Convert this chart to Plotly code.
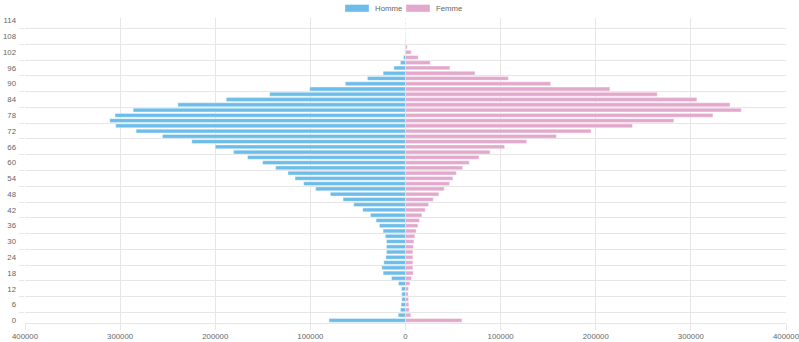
import plotly.graph_objects as go

# Age groups (2-year steps)
ages = list(range(0, 116, 2))

# Population by age group
homme = [80400, 7700, 5300, 4600, 3900, 3900, 4200, 7400, 14700, 23500,
         24900, 22800, 20700, 20000, 20000, 20000, 21100, 23500, 27400, 30900,
         36800, 44900, 54400, 65600, 79000, 94400, 107000, 116100, 123500, 136500,
         150200, 166000, 180700, 200000, 224600, 255500, 283200, 304600, 310900, 305300,
         286300, 239300, 188400, 142800, 100700, 63200, 40000, 23500, 12300, 5300,
         2100, 700, 300, 200, 100, 50, 20, 10]
femme = [59300, 5600, 3900, 3500, 3200, 2800, 3200, 4600, 6300, 8100,
         7700, 7700, 7700, 7700, 8100, 8800, 9800, 11200, 13000, 14700,
         17200, 20700, 24200, 29100, 35100, 40700, 46300, 49800, 53300, 60000,
         67000, 77200, 88800, 104200, 127400, 158600, 195100, 238600, 282100, 323200,
         353000, 341100, 306300, 264600, 214800, 152600, 108100, 73000, 46700, 26000,
         13300, 6000, 1750, 500, 200, 100, 50, 0]

x_ticks = [-400000, -300000, -200000, -100000, 0, 100000, 200000, 300000, 400000]
y_ticks = list(range(0, 115, 6))

BLUE = "#6cbde9"
PINK = "#e3a9cd"
GRID = "#e6e6e6"
TEXT = "#666666"
FONT = "Liberation Sans, Arial, sans-serif"

W, H = 799, 342
ML, MR, MT, MB = 25, 13, 18, 19

fig = go.Figure()
fig.add_trace(go.Bar(
    y=ages, x=[-v for v in homme], orientation="h", name="Homme",
    width=1.44, marker=dict(color=BLUE, line=dict(color="rgba(255,255,255,0.6)", width=0.6)),
    customdata=homme, hovertemplate="%{y}: %{customdata}<extra>Homme</extra>",
    showlegend=False,
))
fig.add_trace(go.Bar(
    y=ages, x=femme, orientation="h", name="Femme",
    width=1.44, marker=dict(color=PINK, line=dict(color="rgba(255,255,255,0.6)", width=0.6)),
    hovertemplate="%{y}: %{x}<extra>Femme</extra>",
    showlegend=False,
))

# Legend drawn as wide colour boxes with labels, centred above the plot
pw = W - ML - MR
ph = H - MT - MB


def px_x(p):
    return (p - ML) / pw


def px_y(p):
    return 1 - (p - MT) / ph


legend_items = [("Homme", BLUE, 345), ("Femme", PINK, 406)]
shapes = []
annotations = []
for label, color, x0 in legend_items:
    shapes.append(dict(type="rect", xref="paper", yref="paper",
                       x0=px_x(x0), x1=px_x(x0 + 24), y0=px_y(12), y1=px_y(4.5),
                       fillcolor=color, line=dict(color="rgba(255,255,255,0.6)", width=0.6)))
    annotations.append(dict(xref="paper", yref="paper", x=px_x(x0 + 28), y=px_y(8.3),
                            text=label, showarrow=False, xanchor="left", yanchor="middle",
                            font=dict(size=7.8, color=TEXT, family=FONT)))

fig.update_layout(
    width=W, height=H,
    margin=dict(l=ML, r=MR, t=MT, b=MB, pad=0),
    barmode="relative",
    plot_bgcolor="white", paper_bgcolor="white",
    font=dict(family=FONT, size=7.8, color=TEXT),
    shapes=shapes, annotations=annotations,
    xaxis=dict(
        range=[-400001, 400001], tickvals=x_ticks,
        ticktext=[str(abs(v)) for v in x_ticks],
        showgrid=True, gridcolor=GRID, gridwidth=1,
        zeroline=False, showline=True, linecolor=GRID, mirror=False,
        ticks="outside", ticklen=6, tickcolor=GRID,
        tickfont=dict(size=7.8, color=TEXT),
        ticklabeloverflow="allow",
        automargin=False,
    ),
    yaxis=dict(
        range=[-1, 115], tickvals=y_ticks, ticktext=[str(v) for v in y_ticks],
        showgrid=False, zeroline=False, showline=False,
        ticks="", ticklabelstandoff=8,
        tickfont=dict(size=7.8, color=TEXT),
        minor=dict(tick0=3, dtick=6, showgrid=True, gridcolor=GRID, gridwidth=1,
                   ticks="outside", ticklen=5, tickcolor=GRID),
        automargin=False,
    ),
    hovermode="closest",
)

fig.write_html("out.html")
